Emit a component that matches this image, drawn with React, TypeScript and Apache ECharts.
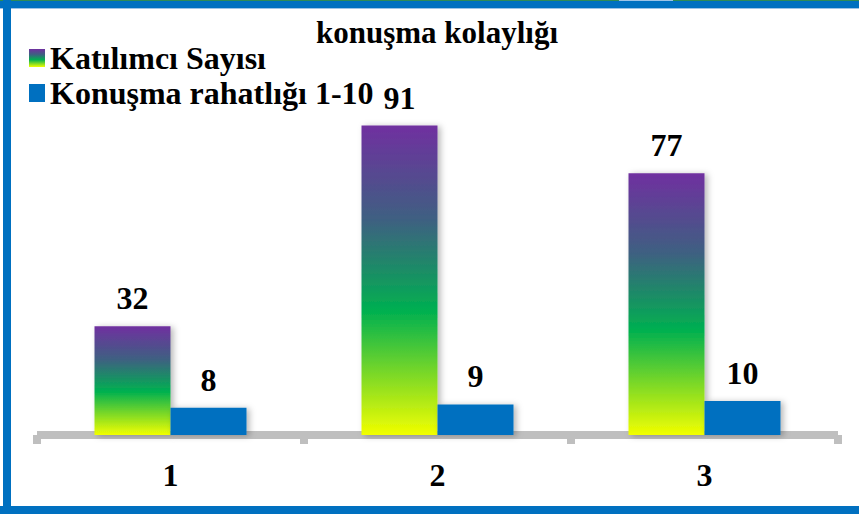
import React, { useEffect, useRef } from "react";
import * as echarts from "echarts";

const categories = ["1", "2", "3"];
const participants = [32, 91, 77];
const comfort = [8, 9, 10];
const seriesNames = ["Katılımcı Sayısı", "Konuşma rahatlığı 1-10"];
const titleText = "konuşma kolaylığı";

const FONT = "Liberation Serif";
const BLUE = "#0070C0";

export default function App() {
  const ref = useRef<HTMLDivElement>(null);
  useEffect(() => {
    document.body.style.margin = "0";
    const chart = echarts.init(ref.current!, null, { renderer: "svg" });
    const grad = new echarts.graphic.LinearGradient(0, 0, 0, 1, [
      { offset: 0, color: "#7030A0" },
      { offset: 0.3, color: "#3F5F82" },
      { offset: 0.6, color: "#00B050" },
      { offset: 1, color: "#F2FF00" },
    ]);
    const shadow = {
      shadowColor: "rgba(0,0,0,0.28)",
      shadowBlur: 6,
      shadowOffsetX: 3,
      shadowOffsetY: 1,
    };
    const label = {
      show: true,
      position: "top",
      distance: 12,
      fontFamily: FONT,
      fontWeight: "bold",
      fontSize: 32,
      color: "#000",
    };
    chart.setOption({
      animation: false,
      backgroundColor: "#fff",
      textStyle: { fontFamily: FONT },
      title: {
        text: titleText,
        left: 437,
        textAlign: "center",
        top: 17,
        padding: 0,
        textStyle: { fontFamily: FONT, fontWeight: "bold", fontSize: 31, color: "#000" },
      },
      legend: {
        orient: "vertical",
        left: 29,
        top: 42,
        padding: 0,
        itemWidth: 16,
        itemHeight: 18,
        itemGap: 3,
        icon: "rect",
        data: seriesNames,
        textStyle: {
          fontFamily: FONT,
          fontWeight: "bold",
          fontSize: 32,
          color: "#000",
        },
      },
      grid: { left: 37, right: 21, top: 95, bottom: 79 },
      xAxis: {
        type: "category",
        data: categories,
        offset: 4,
        axisLine: { show: true, lineStyle: { color: "#BFBFBF", width: 8, cap: "butt" } },
        axisTick: { show: true, length: 9, lineStyle: { color: "#BFBFBF", width: 8 } },
        axisLabel: {
          margin: 20,
          fontFamily: FONT,
          fontWeight: "bold",
          fontSize: 32,
          color: "#000",
        },
      },
      yAxis: { type: "value", min: 0, max: 100, show: false, splitLine: { show: false } },
      series: [
        {
          name: seriesNames[0],
          type: "bar",
          data: participants,
          barWidth: 76,
          barGap: "0%",
          itemStyle: { color: grad, ...shadow },
          label,
        },
        {
          name: seriesNames[1],
          type: "bar",
          data: comfort,
          barWidth: 76,
          barGap: "0%",
          itemStyle: { color: BLUE, ...shadow },
          label,
        },
      ],
      graphic: [
        { type: "rect", shape: { x: 0, y: 0, width: 859, height: 8 }, style: { fill: BLUE } },
        { type: "rect", shape: { x: 0, y: 0, width: 859, height: 1 }, style: { fill: "#2E8B57" } },
        { type: "rect", shape: { x: 619, y: 0, width: 54, height: 1 }, style: { fill: "#9DC3E6" } },
        { type: "rect", shape: { x: 0, y: 8, width: 859, height: 1 }, style: { fill: "#9DC3E6" } },
        { type: "rect", shape: { x: 3, y: 0, width: 8, height: 514 }, style: { fill: BLUE } },
        { type: "rect", shape: { x: 0, y: 506, width: 859, height: 8 }, style: { fill: BLUE } },
      ],
    });
    return () => chart.dispose();
  }, []);
  return (
    <div
      ref={ref}
      style={{ position: "fixed", left: 0, top: 0, width: 859, height: 514 }}
    />
  );
}
